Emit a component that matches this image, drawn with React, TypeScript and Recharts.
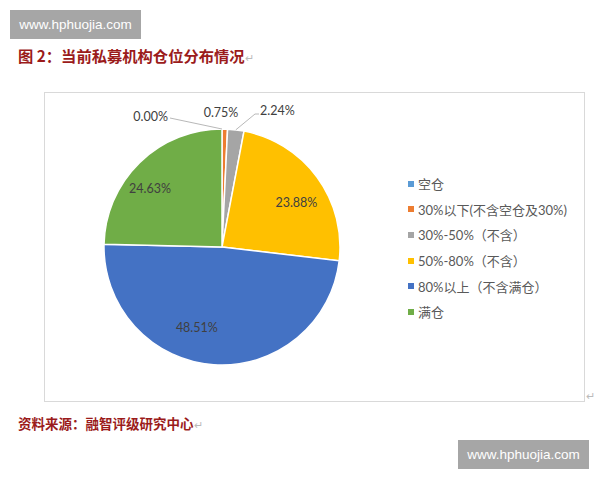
import * as React from 'react';
import { PieChart, Pie, Cell, Legend } from 'recharts';

// 仓位分布 (%)
const categories = [
  '空仓',
  '30%以下(不含空仓及30%)',
  '30%-50%（不含）',
  '50%-80%（不含）',
  '80%以上（不含满仓）',
  '满仓',
];
const shares = [0.0, 0.75, 2.24, 23.88, 48.51, 24.63];
const colors = ['#5B9BD5', '#ED7D31', '#A5A5A5', '#FFC000', '#4472C4', '#70AD47'];

const data = categories.map((name, i) => ({ name, value: shares[i] }));

const RAD = Math.PI / 180;
const labelFont = "Lato, 'Noto Sans CJK SC', sans-serif";

// nudges for the inside labels, like Excel's best-fit placement
const insideNudge: Record<number, [number, number]> = {
  3: [4, 7],
  4: [-19, -7],
  5: [-11, 4],
};

function renderLabel(props: any) {
  const { cx, cy, midAngle, outerRadius, index, value } = props;
  const text = `${Number(value).toFixed(2)}%`;
  const cos = Math.cos(-midAngle * RAD);
  const sin = Math.sin(-midAngle * RAD);
  const common = { fill: '#404040', fontSize: 12.5, fontFamily: labelFont };

  if (value >= 5) {
    const r = outerRadius * 0.74;
    const [dx, dy] = insideNudge[index] || [0, 0];
    return (
      <text key={index} x={cx + r * cos + dx} y={cy + r * sin + dy} textAnchor="middle" dominantBaseline="central" {...common}>
        {text}
      </text>
    );
  }

  // small slices: labels sit above the pie, some with leader lines
  const ex = cx + outerRadius * cos;
  const ey = cy + outerRadius * sin;
  if (index === 0) {
    return (
      <g key={index}>
        <polyline points={`${ex},${ey} ${cx - 52},${cy - 129}`} stroke="#a6a6a6" fill="none" strokeWidth={0.8} />
        <text x={cx - 54} y={cy - 131} textAnchor="end" dominantBaseline="central" {...common}>{text}</text>
      </g>
    );
  }
  if (index === 1) {
    return (
      <text key={index} x={cx - 1} y={cy - 135} textAnchor="middle" dominantBaseline="central" {...common}>
        {text}
      </text>
    );
  }
  return (
    <g key={index}>
      <polyline points={`${ex},${ey} ${cx + 33},${cy - 133} ${cx + 37},${cy - 133}`} stroke="#a6a6a6" fill="none" strokeWidth={0.8} />
      <text x={cx + 38} y={cy - 137} textAnchor="start" dominantBaseline="central" {...common}>{text}</text>
    </g>
  );
}

function LegendList({ payload }: any) {
  const items = [...(payload || [])].sort(
    (a: any, b: any) => categories.indexOf(a.value) - categories.indexOf(b.value)
  );
  return (
    <div>
      {items.map((entry: any, i: number) => (
        <div key={i} style={{ display: 'flex', alignItems: 'center', height: 25.6 }}>
          <span style={{ width: 6, height: 6, background: entry.color, display: 'inline-block', marginRight: 4 }} />
          <span style={{ fontSize: 13, color: '#595959', fontFamily: labelFont, whiteSpace: 'nowrap' }}>{entry.value}</span>
        </div>
      ))}
    </div>
  );
}

const watermark: React.CSSProperties = {
  position: 'absolute',
  background: '#a6a6a6',
  color: '#fff',
  fontFamily: "'Liberation Sans', Arial, sans-serif",
  fontSize: 13.5,
  display: 'flex',
  alignItems: 'center',
  justifyContent: 'center',
  width: 131,
  height: 29,
};

const redTitle: React.CSSProperties = {
  position: 'absolute',
  color: '#9b1b1b',
  fontWeight: 'bold',
  fontFamily: "'Noto Sans CJK SC', sans-serif",
  whiteSpace: 'nowrap',
};

export default function App() {
  return (
    <div style={{ position: 'absolute', left: 0, top: 0, width: 600, height: 480, background: '#fff', overflow: 'hidden' }}>
      <div style={{ ...watermark, left: 10, top: 10 }}>www.hphuojia.com</div>
      <div style={{ ...redTitle, left: 18, top: 45, fontSize: 15.3, lineHeight: '20px' }}>
        图 2：当前私募机构仓位分布情况<span style={{ color: '#bbb', fontWeight: 'normal', fontSize: 11 }}>↵</span>
      </div>

      <div style={{ position: 'absolute', left: 44, top: 92, width: 541, height: 310, border: '1px solid #d9d9d9', boxSizing: 'border-box' }}>
        <PieChart width={539} height={308} margin={{ top: 0, right: 0, bottom: 0, left: 0 }}>
          <Pie
            data={data}
            dataKey="value"
            nameKey="name"
            cx={177}
            cy={154}
            outerRadius={118}
            startAngle={90}
            endAngle={-270}
            stroke="#fff"
            strokeWidth={1.5}
            label={renderLabel}
            labelLine={false}
            isAnimationActive={false}
          >
            {data.map((_, i) => (
              <Cell key={i} fill={colors[i]} />
            ))}
          </Pie>
          <Legend
            layout="vertical"
            align="right"
            verticalAlign="middle"
            content={<LegendList />}
            wrapperStyle={{ position: 'absolute', left: 363, top: 78, width: 175 }}
          />
        </PieChart>
      </div>
      <span style={{ position: 'absolute', left: 586, top: 390, color: '#bbb', fontSize: 11 }}>↵</span>

      <div style={{ ...redTitle, left: 18, top: 413, fontSize: 13.5, lineHeight: '20px' }}>
        资料来源：融智评级研究中心<span style={{ color: '#bbb', fontWeight: 'normal', fontSize: 11 }}>↵</span>
      </div>
      <div style={{ ...watermark, left: 458, top: 440 }}>www.hphuojia.com</div>
    </div>
  );
}
